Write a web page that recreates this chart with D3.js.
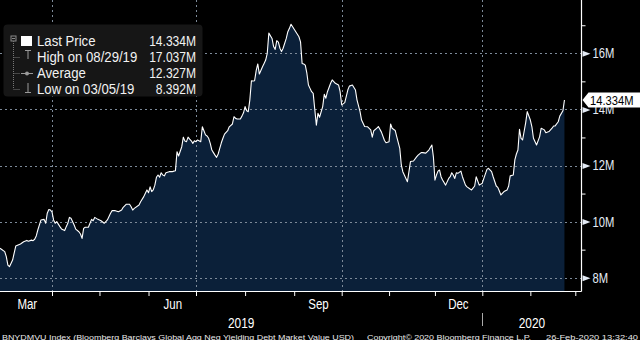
<!DOCTYPE html>
<html><head><meta charset="utf-8">
<script src="https://cdn.jsdelivr.net/npm/d3@7"></script>
<style>html,body{margin:0;padding:0;background:#000;}svg{display:block;}</style>
</head><body>
<svg id="chart" width="640" height="340"></svg>
<script>
// ---------- data (BNYDMVU Index, millions USD) ----------
const dates = ["2019-02-27","2019-03-02","2019-03-03","2019-03-04","2019-03-05","2019-03-07","2019-03-09","2019-03-12","2019-03-14","2019-03-16","2019-03-17","2019-03-19","2019-03-20","2019-03-21","2019-03-22","2019-03-23","2019-03-25","2019-03-27","2019-03-28","2019-03-29","2019-03-30","2019-03-31",
"2019-04-01","2019-04-02","2019-04-03","2019-04-04","2019-04-06","2019-04-07","2019-04-09","2019-04-10","2019-04-11","2019-04-12","2019-04-13","2019-04-15","2019-04-16","2019-04-18","2019-04-19","2019-04-20","2019-04-21","2019-04-22","2019-04-24","2019-04-25","2019-04-26","2019-04-27","2019-04-28","2019-04-30",
"2019-05-02","2019-05-04","2019-05-06","2019-05-08","2019-05-09","2019-05-11","2019-05-13","2019-05-15","2019-05-16","2019-05-18","2019-05-20","2019-05-21","2019-05-22","2019-05-23","2019-05-26","2019-05-27","2019-05-29","2019-05-30","2019-05-31",
"2019-06-01","2019-06-02","2019-06-03","2019-06-04","2019-06-05","2019-06-06","2019-06-07","2019-06-08","2019-06-09","2019-06-10","2019-06-11","2019-06-12","2019-06-14","2019-06-16","2019-06-17","2019-06-18","2019-06-19","2019-06-20","2019-06-22","2019-06-23","2019-06-24","2019-06-25","2019-06-26","2019-06-27","2019-06-28","2019-06-29","2019-06-30",
"2019-07-01","2019-07-02","2019-07-04","2019-07-05","2019-07-06","2019-07-07","2019-07-08","2019-07-09","2019-07-10","2019-07-11","2019-07-12","2019-07-13","2019-07-14","2019-07-15","2019-07-16","2019-07-17","2019-07-18","2019-07-19","2019-07-21","2019-07-22","2019-07-24","2019-07-25","2019-07-26","2019-07-27","2019-07-29","2019-07-30","2019-07-31",
"2019-08-01","2019-08-02","2019-08-03","2019-08-04","2019-08-05","2019-08-06","2019-08-07","2019-08-08","2019-08-09","2019-08-10","2019-08-12","2019-08-13","2019-08-14","2019-08-15","2019-08-16","2019-08-18","2019-08-19","2019-08-20","2019-08-21","2019-08-22","2019-08-23","2019-08-24","2019-08-25","2019-08-27","2019-08-28","2019-08-29","2019-08-30",
"2019-09-01","2019-09-04","2019-09-05","2019-09-06","2019-09-07","2019-09-08","2019-09-09","2019-09-10","2019-09-11","2019-09-12","2019-09-13","2019-09-14","2019-09-15","2019-09-16","2019-09-17","2019-09-19","2019-09-20","2019-09-21","2019-09-22","2019-09-24","2019-09-25","2019-09-27","2019-09-29","2019-09-30",
"2019-10-01","2019-10-03","2019-10-05","2019-10-06","2019-10-08","2019-10-10","2019-10-11","2019-10-13","2019-10-14","2019-10-16","2019-10-18","2019-10-20","2019-10-21","2019-10-22","2019-10-24","2019-10-25","2019-10-27","2019-10-29","2019-10-30",
"2019-11-01","2019-11-02","2019-11-03","2019-11-05","2019-11-06","2019-11-08","2019-11-09","2019-11-10","2019-11-13","2019-11-14","2019-11-15","2019-11-17","2019-11-19","2019-11-20","2019-11-22","2019-11-23","2019-11-25","2019-11-27","2019-11-29","2019-11-30",
"2019-12-01","2019-12-02","2019-12-03","2019-12-04","2019-12-05","2019-12-06","2019-12-08","2019-12-10","2019-12-11","2019-12-12","2019-12-13","2019-12-14","2019-12-15","2019-12-16","2019-12-18","2019-12-19","2019-12-21","2019-12-22","2019-12-24","2019-12-25","2019-12-27","2019-12-28","2019-12-30",
"2020-01-01","2020-01-02","2020-01-04","2020-01-05","2020-01-07","2020-01-08","2020-01-10","2020-01-11","2020-01-12","2020-01-13","2020-01-15","2020-01-17","2020-01-18","2020-01-19","2020-01-21","2020-01-22","2020-01-23","2020-01-24","2020-01-25","2020-01-26","2020-01-27","2020-01-29","2020-01-30",
"2020-02-01","2020-02-02","2020-02-03","2020-02-05","2020-02-07","2020-02-08","2020-02-10","2020-02-11","2020-02-13","2020-02-15","2020-02-16","2020-02-17","2020-02-19","2020-02-20","2020-02-22","2020-02-23"];
const values = [9.05,8.93,8.75,8.45,8.392,8.63,9.13,9.20,9.28,9.33,9.30,9.34,9.32,9.37,9.49,9.70,10.06,10.08,9.94,10.30,10.43,10.41,
10.35,10.06,9.94,10.00,9.82,9.74,9.68,9.82,9.94,10.15,10.12,9.88,9.73,9.64,9.56,9.40,9.76,9.80,9.80,9.94,10.08,10.03,10.15,10.08,
10.03,9.94,10.06,10.30,10.39,10.39,10.35,10.41,10.51,10.62,10.62,10.53,10.41,10.47,10.59,10.71,10.89,11.01,11.13,
11.03,11.24,11.07,11.13,11.30,11.58,11.66,11.58,11.74,11.66,11.63,11.74,11.78,11.78,11.80,11.81,12.49,12.34,12.67,13.01,12.87,12.85,13.01,12.94,12.88,12.79,12.88,
12.85,12.91,12.85,13.38,13.24,13.09,13.05,12.97,12.79,12.55,12.46,12.37,12.29,12.41,12.61,12.81,12.97,13.12,13.24,13.38,13.48,13.74,13.68,13.66,13.66,13.76,13.88,
14.10,13.95,13.92,14.34,15.02,15.01,15.02,15.38,15.62,15.26,15.52,15.64,15.76,16.00,16.72,16.53,16.24,16.14,16.45,16.40,16.18,16.06,16.18,16.53,16.77,16.89,17.037,
16.86,16.59,16.41,15.64,15.62,15.58,15.29,14.87,14.75,14.63,14.57,14.00,13.44,13.86,13.72,14.10,14.54,14.40,14.63,14.93,15.05,14.93,14.87,14.63,
14.16,14.24,14.69,14.83,14.87,14.69,14.34,13.92,13.62,13.39,13.38,13.27,13.01,13.24,13.33,13.39,13.19,12.89,12.81,
12.85,13.48,13.33,13.25,13.03,12.61,12.02,11.78,11.42,11.78,12.14,12.16,12.31,12.37,12.46,12.46,12.44,12.55,12.73,12.31,
11.48,11.66,11.80,11.84,11.60,11.48,11.30,11.54,11.60,11.74,11.66,11.54,11.74,11.72,11.80,11.60,11.30,11.24,11.16,11.13,11.27,11.60,11.30,
11.37,11.54,11.86,11.90,11.78,11.60,11.27,11.22,11.09,10.95,11.07,11.13,11.27,11.63,11.66,12.20,12.41,12.55,13.29,12.97,12.91,13.53,13.92,
13.62,13.38,12.97,12.73,13.03,13.33,13.27,13.17,13.21,13.33,13.41,13.41,13.56,13.76,13.95,14.334];

const yMajor = [8, 10, 12, 14, 16];
const yMinor = [9, 11, 13, 15, 17];
const labelMonths = ["2019-03-16", "2019-06-16", "2019-09-16", "2019-12-16"];
const monthNames = ["Mar", "Jun", "Sep", "Dec"];
const quarterStarts = ["2019-04-01", "2019-07-01", "2019-10-01", "2020-01-01"];
const yearNames = ["2019", "2020"];
const legendLabels = ["Last Price", "High on 08/29/19", "Average", "Low on 03/05/19"];
const legendValues = ["14.334M", "17.037M", "12.327M", "8.392M"];
const lastValue = 14.334;
const footer = ["BNYDMVU Index (Bloomberg Barclays Global Agg Neg Yielding Debt Market Value USD)",
                "Copyright\u00A9 2020 Bloomberg Finance L.P.", "26-Feb-2020 13:32:40"];

// ---------- layout ----------
const parse = d3.timeParse("%Y-%m-%d");
const data = dates.map((d, i) => ({date: parse(d), value: values[i]}));
const plotW = 581.5, plotH = 291;
const FONT = "'Liberation Sans',Arial,sans-serif";

// emulate a condensed face: squeeze the rendered text horizontally
function narrow(sel, f) {
  sel.each(function () {
    const L = this.getComputedTextLength();
    d3.select(this).attr("textLength", L * f).attr("lengthAdjust", "spacingAndGlyphs");
  });
}

const svg = d3.select("#chart");
svg.append("rect").attr("width", 640).attr("height", 340).attr("fill", "#000");

const x = d3.scaleTime()
  .domain([parse("2019-02-27"), ...quarterStarts.map(parse), parse("2020-03-05")])
  .range([0, 52, 196, 341.7, 482.3, plotW]);
const y = d3.scaleLinear().domain([7.526, 17.9]).range([plotH, 0]);

const area = d3.area().x(d => x(d.date)).y0(plotH).y1(d => y(d.value));
const line = d3.line().x(d => x(d.date)).y(d => y(d.value));

svg.append("path").datum(data).attr("d", area).attr("fill", "#0b2039");

// grid
const grid = svg.append("g").attr("stroke", "#7d8a99").attr("stroke-width", 1).attr("stroke-dasharray", "2,3");
grid.selectAll(".hg").data(yMajor).join("line")
  .attr("x1", 0).attr("x2", plotW).attr("y1", d => Math.round(y(d)) + 0.5).attr("y2", d => Math.round(y(d)) + 0.5);
grid.selectAll(".vg").data(quarterStarts.map(parse)).join("line")
  .attr("y1", 0).attr("y2", plotH).attr("x1", d => Math.round(x(d)) + 0.5).attr("x2", d => Math.round(x(d)) + 0.5);

svg.append("path").datum(data).attr("d", line).attr("fill", "none")
  .attr("stroke", "#ffffff").attr("stroke-width", 1.1).attr("stroke-linejoin", "round");

// ---------- right axis ----------
const yAxisG = svg.append("g").attr("transform", `translate(${plotW},0)`);
yAxisG.call(d3.axisRight(y).tickValues(yMajor).tickSize(0).tickPadding(11).tickFormat(d => d + "M"));
yAxisG.select(".domain").remove();
yAxisG.selectAll("text").attr("fill", "#e4ebf5").style("font-family", FONT).style("font-size", "14px").call(narrow, 0.8);
yAxisG.selectAll(".tick").append("path").attr("d", "M1,-3L9,0L1,3Z").attr("fill", "#e4ebf5");
const yMinorG = svg.append("g").attr("transform", `translate(${plotW},0)`);
yMinorG.call(d3.axisRight(y).tickValues(yMinor).tickSize(4).tickFormat(""));
yMinorG.select(".domain").remove();
yMinorG.selectAll("line").attr("stroke", "#fff");
svg.append("line").attr("x1", plotW).attr("x2", plotW).attr("y1", 0).attr("y2", plotH + 0.5)
  .attr("stroke", "#fff").attr("stroke-width", 1.2);

// ---------- bottom axis ----------
const monthTicks = d3.timeMonth.range(parse("2019-04-01"), parse("2020-03-02"));
const xTickG = svg.append("g").attr("transform", `translate(0,${plotH})`);
xTickG.call(d3.axisBottom(x).tickValues(monthTicks).tickSize(5).tickFormat(""));
xTickG.select(".domain").remove();
xTickG.selectAll("line").attr("stroke", "#fff");
svg.append("line").attr("x1", 0).attr("x2", plotW).attr("y1", plotH + 0.5).attr("y2", plotH + 0.5)
  .attr("stroke", "#fff").attr("stroke-width", 1.2);

const xLabG = svg.append("g").attr("transform", `translate(0,${plotH})`);
xLabG.call(d3.axisBottom(x).tickValues(labelMonths.map(parse)).tickSize(0).tickPadding(8)
  .tickFormat((d, i) => monthNames[i]));
xLabG.select(".domain").remove();
xLabG.selectAll("text").attr("fill", "#fff").style("font-family", FONT).style("font-size", "14px").call(narrow, 0.82);

// years
const jan1 = parse("2020-01-01");
const yearCenters = [(x.range()[0] + x(jan1)) / 2, (x(jan1) + plotW) / 2];
svg.append("g").selectAll("text").data(yearNames).join("text")
  .attr("x", (d, i) => yearCenters[i]).attr("y", 328).attr("text-anchor", "middle")
  .attr("fill", "#fff").style("font-family", FONT).style("font-size", "14px").text(d => d).call(narrow, 0.85);
svg.append("line").attr("x1", Math.round(x(jan1)) + 0.5).attr("x2", Math.round(x(jan1)) + 0.5)
  .attr("y1", 313).attr("y2", 326).attr("stroke", "#aaa");

// footer
const footX = [2, 367, 546], footW = [352, 164, 92];
svg.append("g").selectAll("text").data(footer).join("text")
  .attr("x", (d, i) => footX[i]).attr("y", 339.5).attr("textLength", (d, i) => footW[i])
  .attr("lengthAdjust", "spacingAndGlyphs")
  .attr("fill", "#e8e8e8").style("font-family", FONT).style("font-size", "8px").text(d => d);

// ---------- last price tag ----------
const ly = y(lastValue);
svg.append("path").attr("d", `M${plotW + 1},${ly}L${plotW + 7},${ly - 7.5}L640,${ly - 7.5}L640,${ly + 7.5}L${plotW + 7},${ly + 7.5}Z`)
  .attr("fill", "#fff");
svg.append("text").attr("x", 590).attr("y", ly + 5)
  .attr("fill", "#000").style("font-family", FONT).style("font-size", "13px").text(legendValues[0]).call(narrow, 0.86);

// ---------- legend ----------
const lg = svg.append("g");
lg.append("rect").attr("x", 3.5).attr("y", 24.5).attr("width", 199).attr("height", 72).attr("rx", 4)
  .attr("fill", "#161616");
const rowY = [41, 57, 73, 89];
lg.append("rect").attr("x", 11).attr("y", 36).attr("width", 5).attr("height", 5).attr("fill", "none").attr("stroke", "#8a8a8a");
lg.append("line").attr("x1", 12).attr("x2", 15).attr("y1", 38.5).attr("y2", 38.5).attr("stroke", "#8a8a8a");
lg.append("line").attr("x1", 13.5).attr("x2", 13.5).attr("y1", 41).attr("y2", rowY[3]).attr("stroke", "#777").attr("stroke-dasharray", "1,1");
lg.selectAll(".br").data(rowY.slice(1)).join("line")
  .attr("x1", 13.5).attr("x2", 20).attr("y1", d => d + 0.5).attr("y2", d => d + 0.5).attr("stroke", "#777").attr("stroke-dasharray", "1,1");
lg.append("rect").attr("x", 21).attr("y", 36).attr("width", 11).attr("height", 10).attr("fill", "#fff");
const ic = "#9a9a9a";
lg.append("path").attr("d", `M25,${rowY[1] - 6.5}H31M28,${rowY[1] - 6.5}V${rowY[1] + 2}`).attr("stroke", ic).attr("fill", "none");
lg.append("path").attr("d", `M21,${rowY[2] + 0.5}H33`).attr("stroke", ic);
lg.append("circle").attr("cx", 27).attr("cy", rowY[2] + 0.5).attr("r", 2).attr("fill", ic);
lg.append("path").attr("d", `M28,${rowY[3] - 6}V${rowY[3] + 3.5}M25,${rowY[3] + 3.5}H31`).attr("stroke", ic).attr("fill", "none");
lg.selectAll(".lt").data(legendLabels).join("text")
  .attr("x", 37).attr("y", (d, i) => rowY[i] + 5).attr("fill", "#f2f2f2")
  .style("font-family", FONT).style("font-size", "14px").text(d => d).call(narrow, 0.94);
lg.selectAll(".lv").data(legendValues).join("text")
  .attr("x", 196).attr("y", (d, i) => rowY[i] + 5).attr("text-anchor", "end").attr("fill", "#f2f2f2")
  .style("font-family", FONT).style("font-size", "14px").text(d => d).call(narrow, 0.86);
</script>
</body></html>
